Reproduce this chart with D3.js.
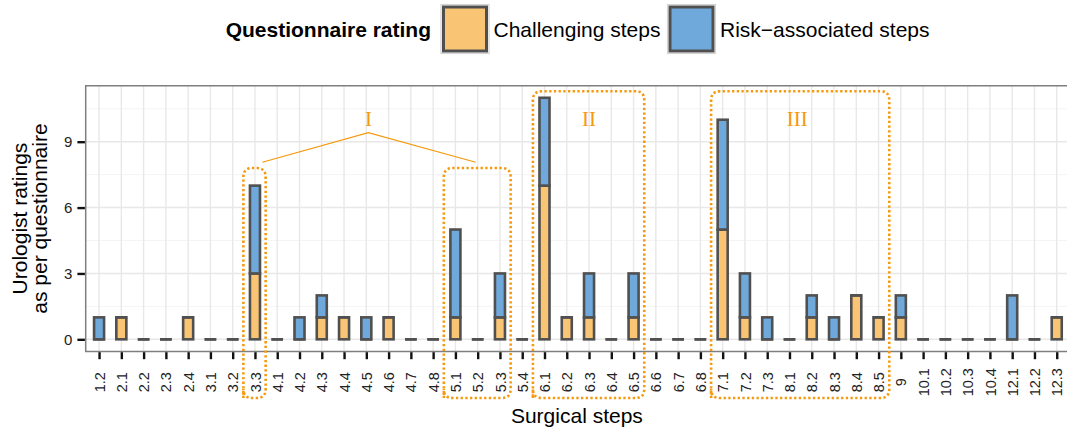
<!DOCTYPE html>
<html>
<head>
<meta charset="utf-8">
<script src="https://cdn.jsdelivr.net/npm/d3@7"></script>
<style>
  html, body { margin: 0; padding: 0; background: #fff; }
  svg { display: block; font-family: "Liberation Sans", Arial, sans-serif; }
</style>
</head>
<body>
<svg id="chart" width="1067" height="433"></svg>
<script>
// Surgical step identifiers (x axis)
const categories = ["1.2","2.1","2.2","2.3","2.4","3.1","3.2","3.3","4.1","4.2","4.3","4.4","4.5","4.6","4.7","4.8",
  "5.1","5.2","5.3","5.4","6.1","6.2","6.3","6.4","6.5","6.6","6.7","6.8","7.1","7.2","7.3",
  "8.1","8.2","8.3","8.4","8.5","9","10.1","10.2","10.3","10.4","12.1","12.2","12.3"];

// Number of urologists rating each step as challenging / risk-associated
const challenging    = [0,1,0,0,1,0,0,3,0,0,1,1,0,1,0,0, 1,0,1,0, 7,1,1,0,1,0,0,0, 5,1,0, 0,1,0,2,1, 1, 0,0,0,0, 0,0,1];
const riskAssociated = [1,0,0,0,0,0,0,4,0,1,1,0,1,0,0,0, 4,0,2,0, 4,0,2,0,2,0,0,0, 5,2,1, 0,1,1,0,0, 1, 0,0,0,0, 2,0,0];

const yTicks = [0, 3, 6, 9];
const yMinor = [1.5, 4.5, 7.5, 10.5];
const seriesNames = ["Challenging steps", "Risk\u2212associated steps"];

// Highlighted step clusters (first step, last step, upper rating bound)
const clusterBoxes = [
  { from: "3.3", to: "3.3", top: 7.8 },
  { from: "5.1", to: "5.3", top: 7.8 },
  { from: "6.1", to: "6.5", top: 11.3 },
  { from: "7.1", to: "8.5", top: 11.3 }
];
// Cluster labels, positioned by step index and rating
const clusterLabels = [
  { text: "I",   at: 12.1,  value: 9.73 },
  { text: "II",  at: 22.0,  value: 9.73 },
  { text: "III", at: 31.35, value: 9.73 }
];
// Connector joining label I to its two boxes: [step index, rating]
const connectorI = [[7.33, 8.06], [12.09, 9.41], [16.91, 8.06]];

const colors = { challenging: "#F9C574", risk: "#6FA8DA" };
const outline = "#505050";
const accent = "#F5990E";

const svg = d3.select("#chart");

// Panel geometry
const panel = { left: 85.7, right: 1070.1, top: 85.7, bottom: 351.4 };

const x = d3.scalePoint().domain(categories).range([panel.left, panel.right]).padding(0.6);
const step = x.step();
const xi = i => x(categories[0]) + i * step;
const y = d3.scaleLinear().domain([-0.55, 11.55]).range([panel.bottom, panel.top]);

const rows = categories.map((c, i) => ({ step: c, challenging: challenging[i], risk: riskAssociated[i] }));
const stacked = d3.stack().keys(["challenging", "risk"])(rows);

// Panel background grid
const grid = svg.append("g");
grid.selectAll("line.minor").data(yMinor).join("line")
  .attr("x1", panel.left).attr("x2", panel.right)
  .attr("y1", d => y(d)).attr("y2", d => y(d))
  .attr("stroke", "#F4F4F4").attr("stroke-width", 1);
grid.selectAll("line.major").data(yTicks).join("line")
  .attr("x1", panel.left).attr("x2", panel.right)
  .attr("y1", d => y(d)).attr("y2", d => y(d))
  .attr("stroke", "#E8E8E8").attr("stroke-width", 1.4);
grid.selectAll("line.vert").data(categories).join("line")
  .attr("x1", d => x(d)).attr("x2", d => x(d))
  .attr("y1", panel.top).attr("y2", panel.bottom)
  .attr("stroke", "#E8E8E8").attr("stroke-width", 1.4);

// Stacked bars
const halfW = 0.225 * step;
const bars = svg.append("g");
stacked.forEach(layer => {
  const key = layer.key;
  layer.forEach(seg => {
    const cx = x(seg.data.step);
    const y0 = y(seg[0]), y1 = y(seg[1]);
    if (seg[1] - seg[0] > 0) {
      bars.append("rect")
        .attr("x", cx - halfW).attr("width", 2 * halfW)
        .attr("y", y1).attr("height", y0 - y1)
        .attr("fill", colors[key]).attr("stroke", outline).attr("stroke-width", 2.6);
    } else {
      bars.append("line")
        .attr("x1", cx - halfW - 0.8).attr("x2", cx + halfW + 0.8)
        .attr("y1", y0).attr("y2", y0)
        .attr("stroke", outline).attr("stroke-width", 2.6);
    }
  });
});

// Panel border
svg.append("path")
  .attr("d", `M${panel.right + 5},${panel.top}H${panel.left}V${panel.bottom}H${panel.right + 5}`)
  .attr("fill", "none").attr("stroke", "#7F7F7F").attr("stroke-width", 1.5);

// Y axis
const yAxis = svg.append("g").attr("transform", `translate(${panel.left - 0.8},0)`)
  .call(d3.axisLeft(y).tickValues(yTicks).tickSize(7.5).tickPadding(5).tickFormat(d3.format("d")));
yAxis.select(".domain").remove();
yAxis.selectAll(".tick line").attr("stroke", "#111").attr("stroke-width", 2.4);
yAxis.selectAll(".tick text").attr("fill", "#222").style("font-size", "15px")
  .style("font-family", "Liberation Sans, Arial, sans-serif");

// X axis
const xAxis = svg.append("g").attr("transform", `translate(0,${panel.bottom + 0.8})`)
  .call(d3.axisBottom(x).tickSize(7).tickPadding(0));
xAxis.select(".domain").remove();
xAxis.selectAll(".tick line").attr("stroke", "#111").attr("stroke-width", 2.4);
xAxis.selectAll(".tick text")
  .attr("fill", "#222").style("font-size", "14.5px")
  .style("font-family", "Liberation Sans, Arial, sans-serif")
  .attr("transform", "translate(0,30) rotate(-90)")
  .attr("text-anchor", "middle").attr("x", 0).attr("y", 0).attr("dy", "0.35em");

// Axis titles
svg.append("text").attr("x", (panel.left + panel.right) / 2 - 1).attr("y", 423)
  .attr("text-anchor", "middle").style("font-size", "21px").attr("fill", "#000")
  .text("Surgical steps");
const yTitle = svg.append("text")
  .attr("transform", `translate(0,${(panel.top + panel.bottom) / 2}) rotate(-90)`)
  .attr("text-anchor", "middle").style("font-size", "21px").attr("fill", "#000");
yTitle.append("tspan").attr("x", 0).attr("y", 27).text("Urologist ratings");
yTitle.append("tspan").attr("x", 0).attr("y", 47).text("as per questionnaire");

// Cluster annotations
const ann = svg.append("g");
clusterBoxes.forEach(b => {
  const x0 = x(b.from) - 0.52 * step;
  const x1 = x(b.to) + 0.48 * step;
  const yt = y(b.top);
  const yb = 398;
  const r = Math.min(9, (x1 - x0) / 2);
  const d = `M${x0},${yb}V${yt + r}Q${x0},${yt} ${x0 + r},${yt}H${x1 - r}Q${x1},${yt} ${x1},${yt + r}V${yb - r}Q${x1},${yb} ${x1 - r},${yb}H${x0 + r}Q${x0},${yb} ${x0},${yb - r}Z`;
  ann.append("path").attr("d", d).attr("fill", "none")
    .attr("stroke", accent).attr("stroke-width", 2.6)
    .attr("stroke-dasharray", "2.3 2.4");
});
ann.append("path")
  .attr("d", d3.line().x(p => xi(p[0])).y(p => y(p[1]))(connectorI))
  .attr("fill", "none").attr("stroke", accent).attr("stroke-width", 1.1);
ann.selectAll("text.cl").data(clusterLabels).join("text")
  .attr("x", d => xi(d.at)).attr("y", d => y(d.value))
  .attr("text-anchor", "middle").attr("fill", accent)
  .style("font-family", "Liberation Serif, 'Times New Roman', serif").style("font-size", "21px")
  .text(d => d.text);

// Legend
const legend = svg.append("g");
legend.append("text").attr("x", 431).attr("y", 37.3).attr("text-anchor", "end")
  .style("font-size", "21px").style("font-weight", "bold").attr("fill", "#000")
  .text("Questionnaire rating");
const keyX = [441, 667.5];
const keyFill = [colors.challenging, colors.risk];
seriesNames.forEach((name, i) => {
  legend.append("rect").attr("x", keyX[i]).attr("y", 4.5).attr("width", 48).attr("height", 49)
    .attr("fill", "none").attr("stroke", "#D4D4D4").attr("stroke-width", 1.2);
  legend.append("rect").attr("x", keyX[i] + 2.5).attr("y", 7).attr("width", 43).attr("height", 44)
    .attr("fill", keyFill[i]).attr("stroke", outline).attr("stroke-width", 3);
  legend.append("text").attr("x", keyX[i] + 52.5).attr("y", 37.3)
    .style("font-size", "21px").attr("fill", "#000").text(name);
});
</script>
</body>
</html>
